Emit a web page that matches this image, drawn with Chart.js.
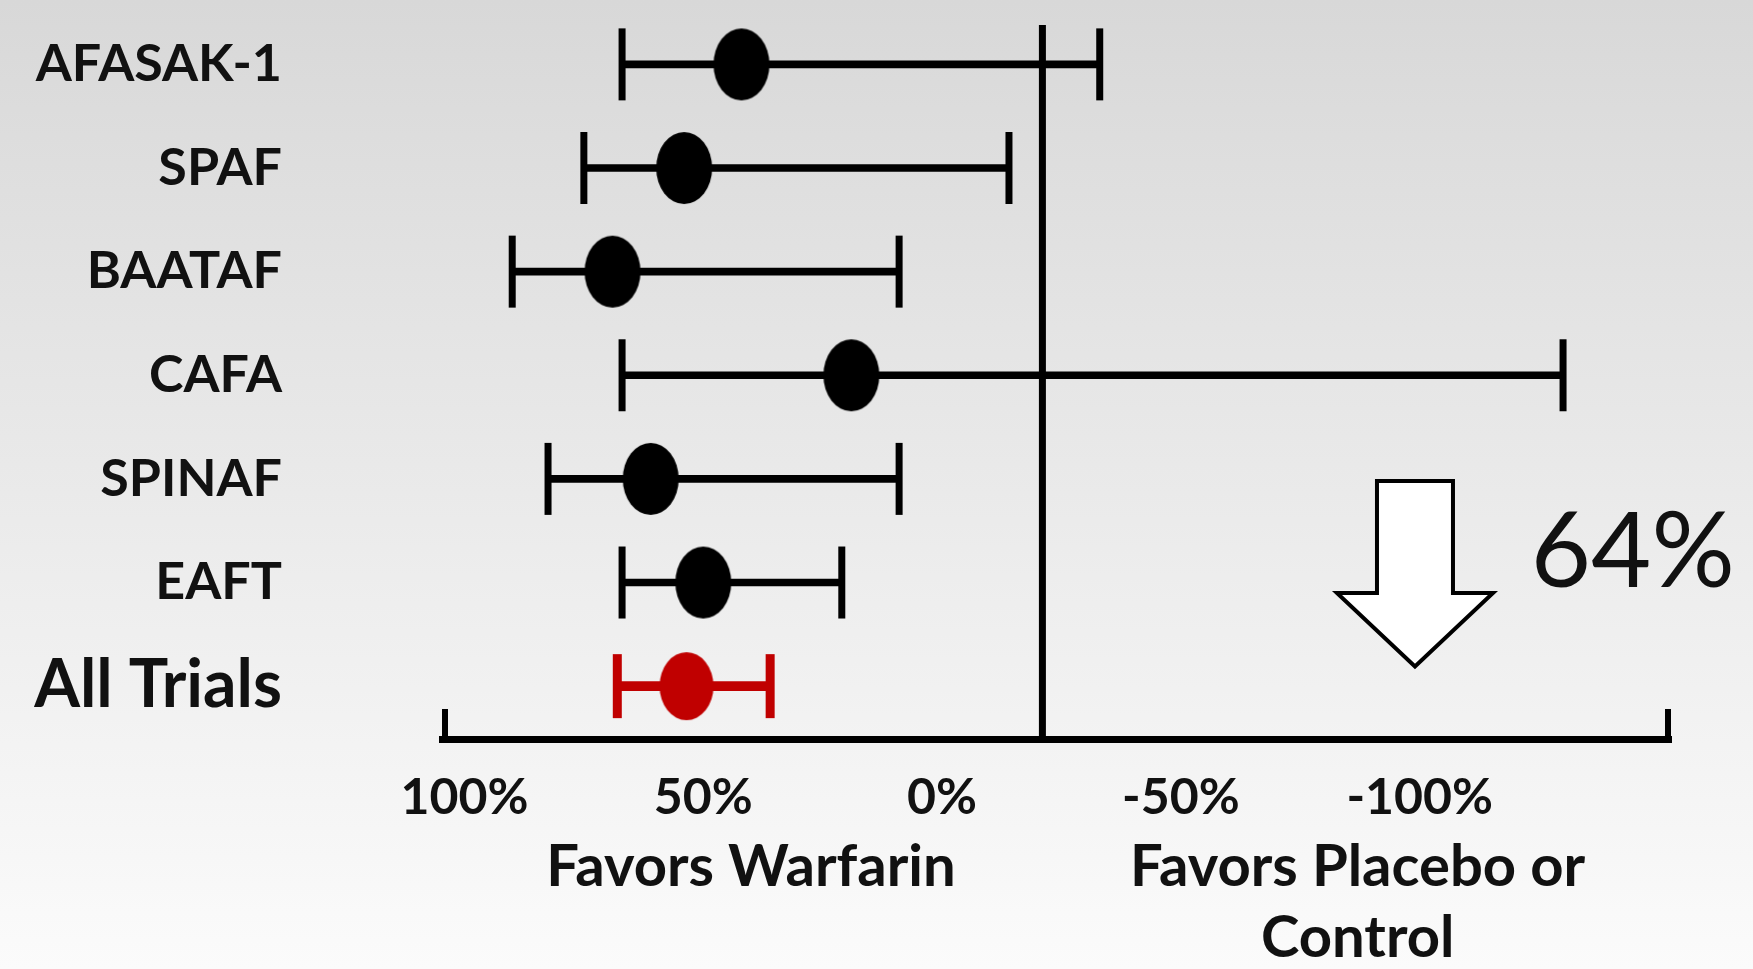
<!DOCTYPE html>
<html>
<head>
<meta charset="utf-8">
<script src="https://cdn.jsdelivr.net/npm/chart.js@4.4.1/dist/chart.umd.min.js"></script>
<style>
html, body { margin: 0; padding: 0; }
body {
    width: 1753px; height: 969px; overflow: hidden;
    background: linear-gradient(to bottom, #d8d8d8 0%, #e8e8e8 45%, #fbfbfb 100%);
}
#wrap { position: relative; width: 1753px; height: 969px; }
</style>
</head>
<body>
<div id="wrap"><canvas id="forest" width="1753" height="969"></canvas></div>
<script>
// trials, top to bottom
const trials = ['AFASAK-1', 'SPAF', 'BAATAF', 'CAFA', 'SPINAF', 'EAFT', 'All Trials'];
// relative risk reduction (%)
const estimate = [42, 54, 69, 19, 61, 50, 53.5];
const lower    = [67, 75, 90, 67, 82.5, 67, 68];
const upper    = [-33, -14, 9, -130, 9, 21, 36];
// x axis
const tickValues = [100, 50, 0, -50, -100];
const tickLabels = ['100%', '50%', '0%', '-50%', '-100%'];
const refLine = -21;          // the vertical line, where the slide draws it
const reduction = '64%';

const BLACK = '#000000';
const RED = '#c00000';
const TEXT = '#111111';

function ellipse(w, h, color)
{
    const c = document.createElement('canvas');
    c.width = w + 2;
    c.height = h + 2;
    const g = c.getContext('2d');
    g.fillStyle = color;
    g.beginPath();
    g.ellipse(c.width / 2, c.height / 2, w / 2, h / 2, 0, 0, Math.PI * 2);
    g.fill();
    return c;
}
const blackDot = ellipse(56, 72, BLACK);
const redDot = ellipse(54, 68, RED);

const isAll = i => i === trials.length - 1;
// caps come in pairs, one pair per trial
const capRow = ctx => Math.floor((ctx.dataIndex || 0) / 2);

const capPoints = [];
trials.forEach((t, i) => {
    capPoints.push({x: lower[i], y: i});
    capPoints.push({x: upper[i], y: i});
});
const intervals = lower.map((l, i) => ({y: i, x: [l, upper[i]]}));

// extra drawing: reference line, axis end ticks, captions, arrow
const decorations = {
    id: 'decorations',
    beforeDatasetsDraw(chart)
    {
        const {ctx, chartArea, scales: {x}} = chart;
        ctx.save();
        ctx.strokeStyle = BLACK;
        ctx.lineWidth = 7;
        const rx = x.getPixelForValue(refLine);
        ctx.beginPath();
        ctx.moveTo(rx, chartArea.top);
        ctx.lineTo(rx, chartArea.bottom);
        ctx.stroke();
        ctx.lineWidth = 6;
        [chartArea.left + 3, chartArea.right - 3].forEach(px => {
            ctx.beginPath();
            ctx.moveTo(px, chartArea.bottom - 30);
            ctx.lineTo(px, chartArea.bottom);
            ctx.stroke();
        });
        ctx.restore();
    },
    afterDraw(chart)
    {
        const {ctx, chartArea, scales: {x, y}} = chart;
        ctx.save();
        ctx.fillStyle = TEXT;
        ctx.textAlign = 'center';
        ctx.textBaseline = 'middle';
        ctx.font = 'bold 58px Lato';
        ctx.fillText('Favors Warfarin', x.getPixelForValue(40), chartArea.bottom + 128);
        ctx.fillText('Favors Placebo or', x.getPixelForValue(-87), chartArea.bottom + 128);
        ctx.fillText('Control', x.getPixelForValue(-87), chartArea.bottom + 199);

        // block arrow
        const cx = x.getPixelForValue(-99);
        const top = y.getPixelForValue(4.02);
        const neck = y.getPixelForValue(5.1);
        const tip = y.getPixelForValue(5.81);
        ctx.beginPath();
        ctx.moveTo(cx - 38, top);
        ctx.lineTo(cx + 38, top);
        ctx.lineTo(cx + 38, neck);
        ctx.lineTo(cx + 78, neck);
        ctx.lineTo(cx, tip);
        ctx.lineTo(cx - 78, neck);
        ctx.lineTo(cx - 38, neck);
        ctx.closePath();
        ctx.fillStyle = '#ffffff';
        ctx.fill();
        ctx.lineWidth = 4;
        ctx.lineJoin = 'miter';
        ctx.strokeStyle = BLACK;
        ctx.stroke();

        ctx.fillStyle = TEXT;
        ctx.font = '104px Lato';
        ctx.textBaseline = 'alphabetic';
        ctx.fillText(reduction, x.getPixelForValue(-144.6), y.getPixelForValue(5.04));
        ctx.restore();
    }
};

Chart.defaults.font.family = 'Lato';

new Chart(document.getElementById('forest'),
{
    type: 'bar',
    data:
    {
        datasets:
        [
            {
                type: 'line',
                label: 'Estimate',
                data: estimate.map((v, i) => ({x: v, y: i})),
                showLine: false,
                pointStyle: ctx => isAll(ctx.dataIndex) ? redDot : blackDot,
                pointRadius: 30,
                pointHoverRadius: 30,
                clip: false,
                order: 0
            },
            {
                type: 'line',
                label: 'Caps',
                data: capPoints,
                showLine: false,
                pointStyle: 'line',
                pointRotation: 90,
                pointRadius: ctx => isAll(capRow(ctx)) ? 32 : 36,
                pointHoverRadius: ctx => isAll(capRow(ctx)) ? 32 : 36,
                pointBorderWidth: ctx => isAll(capRow(ctx)) ? 9 : 7,
                pointBorderColor: ctx => isAll(capRow(ctx)) ? RED : BLACK,
                clip: false,
                order: 1
            },
            {
                type: 'bar',
                label: 'Interval',
                indexAxis: 'y',
                grouped: false,
                data: intervals.filter(d => !isAll(d.y)),
                backgroundColor: BLACK,
                borderWidth: 0,
                barThickness: 7,
                order: 2
            },
            {
                type: 'bar',
                label: 'Pooled interval',
                indexAxis: 'y',
                grouped: false,
                data: intervals.filter(d => isAll(d.y)),
                backgroundColor: RED,
                borderWidth: 0,
                barThickness: 9,
                order: 2
            }
        ]
    },
    options:
    {
        responsive: false,
        animation: false,
        events: [],
        layout: { autoPadding: false, padding: {top: 25, right: 82, left: 0, bottom: 0} },
        plugins:
        {
            legend: { display: false },
            tooltip: { enabled: false }
        },
        scales:
        {
            x:
            {
                type: 'linear',
                reverse: true,
                offset: false,
                min: -152.6,
                max: 104.7,
                grid: { display: false },
                border: { display: true, color: BLACK, width: 7 },
                afterBuildTicks: s => { s.ticks = tickValues.map(v => ({value: v})); },
                afterFit: s => { s.height = 230; },
                ticks:
                {
                    autoSkip: false,
                    maxRotation: 0,
                    padding: 21,
                    color: TEXT,
                    font: { family: 'Lato', weight: 'bold', size: 50 },
                    callback: (v, i) => tickLabels[i]
                }
            },
            y:
            {
                type: 'linear',
                reverse: true,
                offset: false,
                min: -0.38,
                max: 6.51,
                grid: { display: false },
                border: { display: false },
                afterBuildTicks: s => { s.ticks = trials.map((t, i) => ({value: i})); },
                afterFit: s => { s.width = 442; s.paddingTop = 0; s.paddingBottom = 0; },
                ticks:
                {
                    autoSkip: false,
                    padding: 152,
                    color: TEXT,
                    font: ctx => isAll(ctx.index)
                        ? { family: 'Lato', weight: 'bold', size: 66 }
                        : { family: 'Lato', weight: 'bold', size: 52 },
                    callback: v => trials[v]
                }
            }
        }
    },
    plugins: [decorations]
});
</script>
</body>
</html>
